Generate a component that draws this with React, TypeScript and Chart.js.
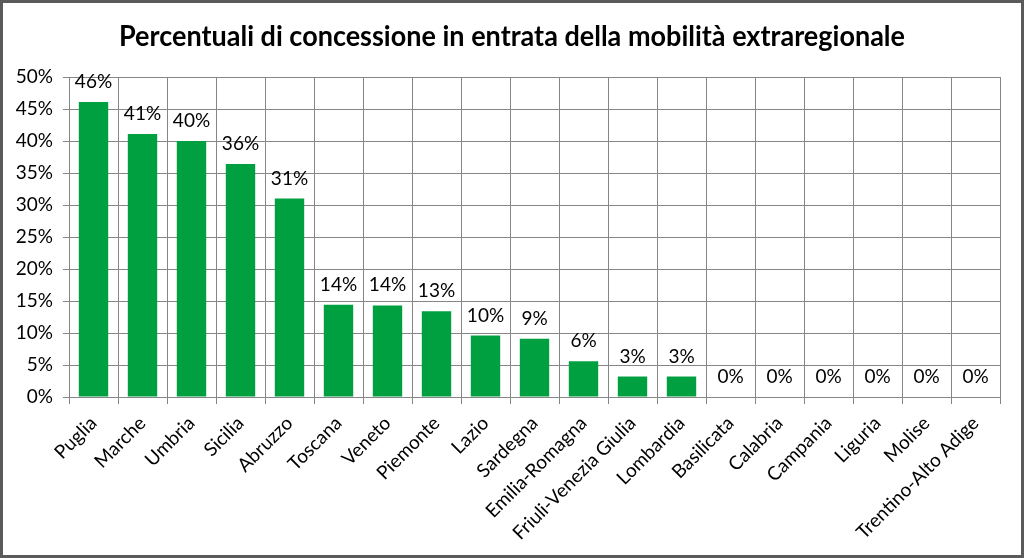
import React, { useEffect, useRef } from "react";
import { Chart, registerables } from "chart.js";

Chart.register(...registerables);

const TITLE = "Percentuali di concessione in entrata della mobilità extraregionale";

const regions: string[] = [
  "Puglia", "Marche", "Umbria", "Sicilia", "Abruzzo", "Toscana", "Veneto",
  "Piemonte", "Lazio", "Sardegna", "Emilia-Romagna", "Friuli-Venezia Giulia",
  "Lombardia", "Basilicata", "Calabria", "Campania", "Liguria", "Molise",
  "Trentino-Alto Adige",
];

const percentages: number[] = [
  46.1, 41.1, 40.0, 36.4, 31.0, 14.4, 14.3, 13.4, 9.6, 9.1, 5.6, 3.2, 3.2,
  0, 0, 0, 0, 0, 0,
];

const yMin = 0;
const yMax = 50;
const yStep = 5;

const FONT = "Lato, 'Open Sans', sans-serif";
const BAR_COLOR = "#00A040";
const GRID_COLOR = "#868686";

const framePlugin = {
  id: "frame",
  beforeDraw(chart: any) {
    const { ctx, width, height } = chart;
    ctx.save();
    ctx.fillStyle = "#ffffff";
    ctx.fillRect(0, 0, width, height);
    ctx.restore();
  },
  afterDraw(chart: any) {
    const { ctx, width, height } = chart;
    ctx.save();
    ctx.strokeStyle = "#5a5a5a";
    ctx.lineWidth = 3;
    ctx.strokeRect(1.5, 1.5, width - 3, height - 3);
    ctx.fillStyle = "#000";
    ctx.font = `bold 28px ${FONT}`;
    ctx.textAlign = "center";
    ctx.textBaseline = "alphabetic";
    ctx.fillText(TITLE, 512, 46, 786);
    ctx.restore();
  },
};

const valueLabelPlugin = {
  id: "valueLabels",
  afterDatasetsDraw(chart: any) {
    const { ctx } = chart;
    const meta = chart.getDatasetMeta(0);
    const data = chart.data.datasets[0].data as number[];
    ctx.save();
    ctx.fillStyle = "#000";
    ctx.font = `19px ${FONT}`;
    ctx.textAlign = "center";
    ctx.textBaseline = "alphabetic";
    meta.data.forEach((bar: any, i: number) => {
      ctx.fillText(`${Math.round(data[i])}%`, bar.x, bar.y - 14);
    });
    ctx.restore();
  },
};

export default function App() {
  const canvasRef = useRef<HTMLCanvasElement | null>(null);

  useEffect(() => {
    document.body.style.margin = "0";
    const canvas = canvasRef.current;
    if (!canvas) return;
    const chart = new Chart(canvas, {
      type: "bar",
      data: {
        labels: regions,
        datasets: [
          {
            data: percentages,
            backgroundColor: BAR_COLOR,
            borderWidth: 0,
            barPercentage: 0.6,
            categoryPercentage: 1,
          },
        ],
      },
      options: {
        responsive: false,
        animation: false,
        devicePixelRatio: 1,
        layout: { padding: { top: 77, right: 24, bottom: 0, left: 0 } },
        plugins: {
          legend: { display: false },
          title: { display: false },
          tooltip: { enabled: false },
        },
        scales: {
          x: {
            grid: {
              color: GRID_COLOR,
              offset: true,
              tickLength: 7,
              lineWidth: 1,
            },
            border: { color: GRID_COLOR, width: 1 },
            ticks: {
              autoSkip: false,
              maxRotation: 45,
              minRotation: 45,
              color: "#000",
              font: { family: FONT, size: 19 },
              padding: 8,
            },
            afterFit(scale: any) {
              scale.height = 161;
            },
          },
          y: {
            min: yMin,
            max: yMax,
            grid: { color: GRID_COLOR, tickLength: 6, lineWidth: 1 },
            border: { color: GRID_COLOR, width: 1 },
            ticks: {
              stepSize: yStep,
              color: "#000",
              font: { family: FONT, size: 19 },
              padding: 10,
              callback: (v: any) => `${v}%`,
            },
            afterFit(scale: any) {
              scale.width = 69;
            },
          },
        },
      },
      plugins: [framePlugin, valueLabelPlugin],
    });
    return () => chart.destroy();
  }, []);

  return (
    <div style={{ position: "fixed", left: 0, top: 0, width: 1024, height: 558 }}>
      <canvas ref={canvasRef} width={1024} height={558} />
    </div>
  );
}
